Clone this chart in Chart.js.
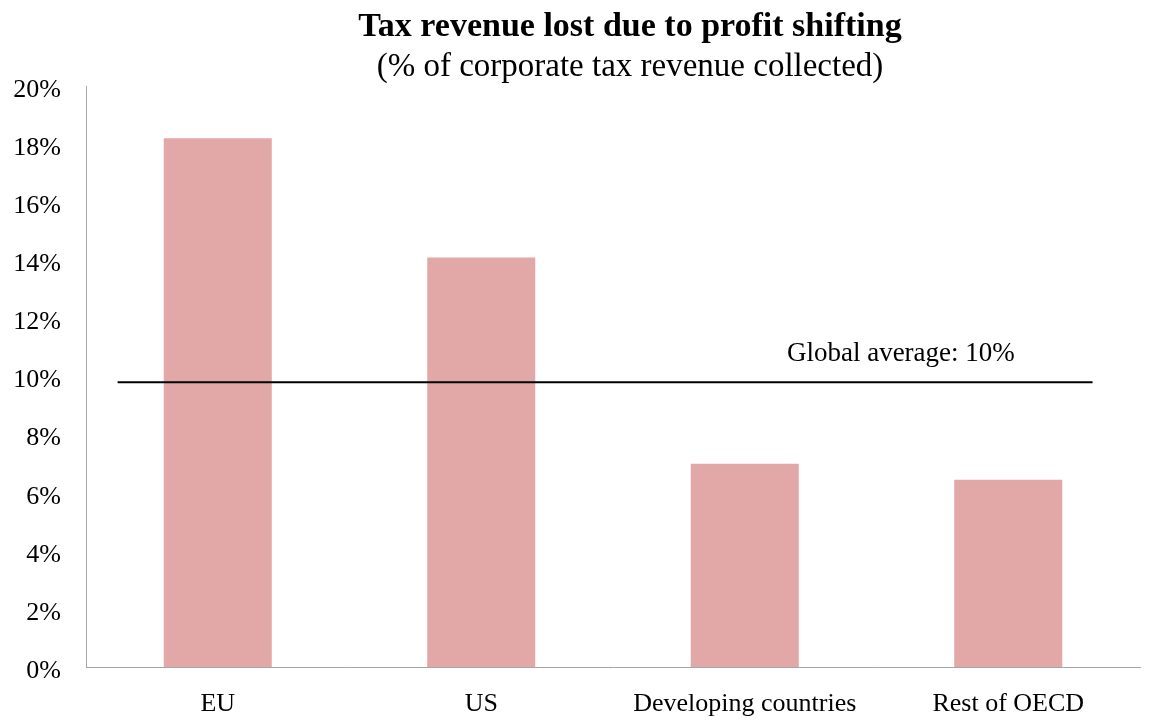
<!DOCTYPE html>
<html>
<head>
<meta charset="utf-8">
<script src="https://cdn.jsdelivr.net/npm/chart.js@4"></script>
<style>
  html, body { margin: 0; padding: 0; background: #fff; }
  #wrap { width: 1156px; height: 721px; }
</style>
</head>
<body>
<div id="wrap"><canvas id="taxChart"></canvas></div>
<script>
// Data
const regions = ['EU', 'US', 'Developing countries', 'Rest of OECD'];
const revenueLost = [18.2, 14.1, 7.0, 6.45]; // % of corporate tax revenue
const globalAverage = 9.8;
const globalLabel = 'Global average: 10%';
const titleText = 'Tax revenue lost due to profit shifting';
const subtitleText = '(% of corporate tax revenue collected)';

const serif = "'Liberation Serif', 'DejaVu Serif', serif";
const axisGrey = '#a6a6a6';

// draws the titles and the global average line + its label
const extras = {
    id: 'extras',
    afterDraw(chart) {
        const c = chart.ctx;
        const area = chart.chartArea;
        const y = chart.scales.y.getPixelForValue(globalAverage);
        const w = area.right - area.left;

        c.save();
        c.strokeStyle = '#000';
        c.lineWidth = 2;
        c.beginPath();
        c.moveTo(area.left + 0.03 * w, y);
        c.lineTo(area.left + 0.955 * w, y);
        c.stroke();

        c.fillStyle = '#000';
        c.font = '27px ' + serif;
        c.textAlign = 'left';
        c.textBaseline = 'alphabetic';
        c.fillText(globalLabel, area.left + 0.665 * w, y - 21);

        c.textAlign = 'center';
        c.font = 'bold 34px ' + serif;
        c.fillText(titleText, 630, 36);
        c.font = '33px ' + serif;
        c.fillText(subtitleText, 630, 76);
        c.restore();
    }
};

const ctx = document.getElementById('taxChart').getContext('2d');
const chart = new Chart(ctx, {
    type: 'bar',
    data: {
        labels: regions,
        datasets: [{
            data: revenueLost,
            backgroundColor: 'rgb(226, 168, 167)',
            borderWidth: 0,
            categoryPercentage: 1,
            barPercentage: 0.41
        }]
    },
    options: {
        responsive: true,
        maintainAspectRatio: false,
        animation: false,
        layout: { padding: { top: 86, left: 13, right: 16, bottom: 4 } },
        plugins: {
            legend: { display: false },
            tooltip: { enabled: false }
        },
        scales: {
            x: {
                grid: { display: false, drawTicks: false },
                border: { color: axisGrey, width: 1 },
                ticks: { color: '#000', padding: 22, font: { family: serif, size: 26 }, maxRotation: 0 },
                afterFit: s => { s.height = 50; }
            },
            y: {
                min: 0,
                max: 20,
                grid: { display: false, drawTicks: false },
                border: { color: axisGrey, width: 1 },
                ticks: {
                    stepSize: 2,
                    color: '#000',
                    padding: 25,
                    labelOffset: 4,
                    font: { family: serif, size: 26 },
                    callback: v => v + '%'
                },
                afterFit: s => { s.width = 73; }
            }
        }
    },
    plugins: [extras]
});
</script>
</body>
</html>
